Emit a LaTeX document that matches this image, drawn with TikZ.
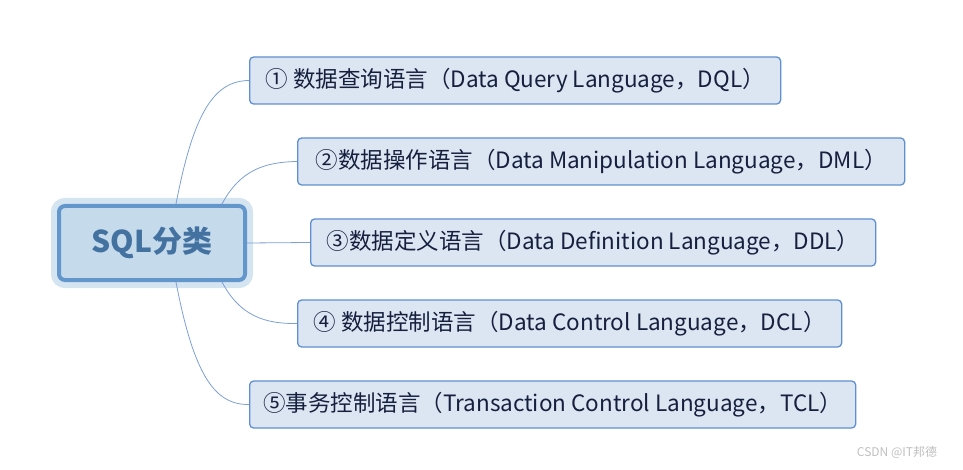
\documentclass[tikz,border=0pt]{standalone}
\usepackage{fontspec}
\setmainfont{Noto Sans CJK SC}
\usetikzlibrary{positioning}
\definecolor{rootfill}{RGB}{197, 219, 236}
\definecolor{rootline}{RGB}{99, 150, 203}
\definecolor{roothalo}{RGB}{212, 228, 241}
\definecolor{roottext}{RGB}{67, 113, 160}
\definecolor{leaffill}{RGB}{220, 230, 242}
\definecolor{leafline}{RGB}{95, 143, 208}
\definecolor{leaftext}{RGB}{22, 32, 62}
\definecolor{branch}{RGB}{125, 160, 212}

\tikzset{
  root/.style={draw=rootline, line width=4pt, fill=rootfill, rounded corners=6pt,
    minimum width=186pt, minimum height=74pt, text=roottext,
    font=\fontsize{30}{34}\selectfont\bfseries,
    preaction={draw=roothalo, line width=16pt, rounded corners=8pt}},
  leaf/.style={draw=leafline, line width=1.3pt, fill=leaffill, rounded corners=4pt,
    minimum height=47pt, text=leaftext, font=\fontsize{22.5}{26}\selectfont, inner xsep=6pt},
  link/.style={draw=branch, line width=0.8pt}
}

\begin{document}
\begin{tikzpicture}[x=1pt, y=-1pt]
  \useasboundingbox (0, 0) rectangle (963, 470);

  \node[root] (sql) at (152, 243) {SQL分类};

  \foreach \n/\x/\w/\txt in {1/249/531/① 数据查询语言（Data Query Language，DQL）,
      2/297/607/②数据操作语言（Data Manipulation Language，DML）,
      3/310/565/③数据定义语言（Data Definition Language，DDL）,
      4/297/544/④ 数据控制语言（Data Control Language，DCL）,
      5/249/606/⑤事务控制语言（Transaction Control Language，TCL）} {
    \node[leaf, minimum width=\w pt, anchor=west] (lang\n) at (\x, {81*(\n-1) + 80.5}) {\txt};
  }

  % branches from the root to each language
  \draw[link] ([xshift=24pt]sql.north) .. controls (194, 110) and (215, 81) .. (lang1.west);
  \draw[link] ([xshift=70pt]sql.north) .. controls (240, 170) and (265, 162) .. (lang2.west);
  \draw[link] (sql.east) -- (lang3.west);
  \draw[link] ([xshift=70pt]sql.south) .. controls (240, 316) and (265, 324) .. (lang4.west);
  \draw[link] ([xshift=24pt]sql.south) .. controls (194, 376) and (215, 405) .. (lang5.west);

  \node[text=black!25, font=\fontsize{12}{14}\selectfont] (mark) at (897, 452) {CSDN @IT邦德};
\end{tikzpicture}
\end{document}
